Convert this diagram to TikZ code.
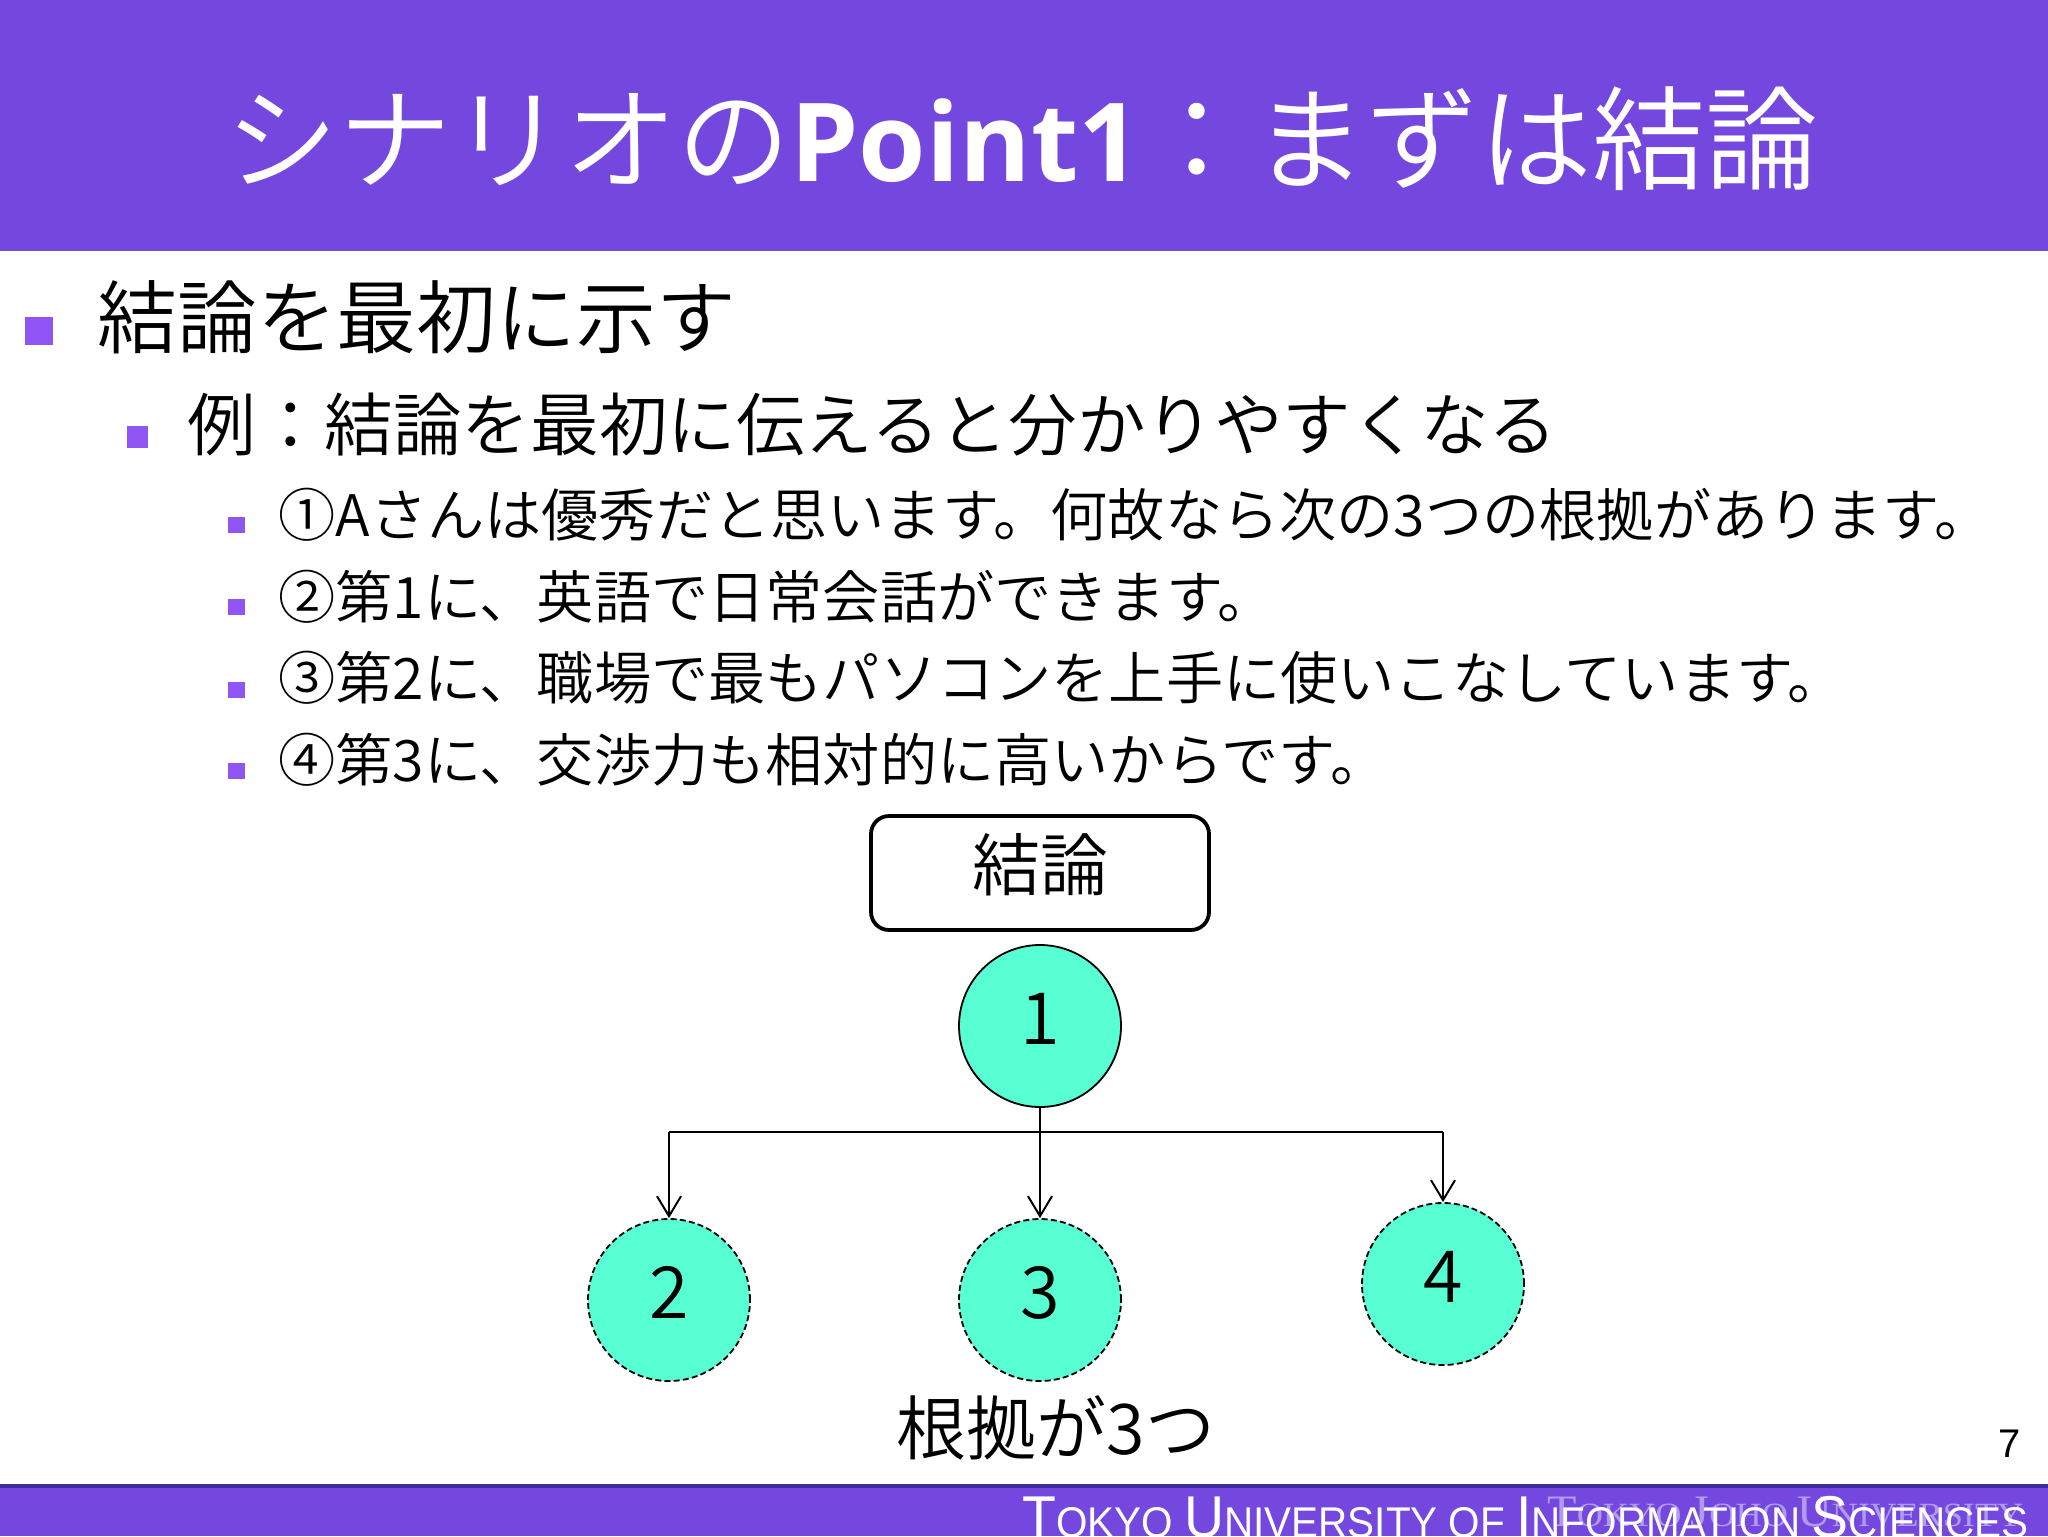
\documentclass[tikz,border=0pt]{standalone}
\usepackage{fontspec}
\usetikzlibrary{arrows.meta}
\setmainfont{Noto Sans CJK JP}[UprightFont=* DemiLight,BoldFont=* Bold]
\newfontfamily\latinbold{Open Sans}[BoldFont=* Bold]
\newfontfamily\footsans{Liberation Sans}
\newfontfamily\footserif{Liberation Serif}
\definecolor{band}{HTML}{7448DF}
\definecolor{bandline}{HTML}{3F2C9C}
\definecolor{bullet}{HTML}{8F55F5}
\definecolor{mint}{HTML}{57FFD3}
\definecolor{ghost}{HTML}{B29AF0}
\newcommand{\fs}[1]{\fontsize{#1pt}{#1pt}\selectfont}
\newcommand{\numtext}[1]{\raisebox{-9.2pt}[0pt][0pt]{#1}}
\tikzset{
  lineA/.style={anchor=base west,inner sep=0pt,font=\fs{39.9}},
  lineB/.style={anchor=base west,inner sep=0pt,font=\fs{34.3}},
  lineC/.style={anchor=base west,inner sep=0pt,font=\fs{28.6}},
  bulletmark/.style={fill=bullet,draw=none},
  mintdisc/.style={circle,minimum size=81pt,inner sep=0pt,fill=mint,draw=black,line width=.9pt,font=\fs{36}},
  dashdisc/.style={mintdisc,dash pattern=on 3pt off 1.6pt},
  wire/.style={line width=1pt,draw=black},
  tip/.style={-{Straight Barb[length=10pt,width=12pt,line width=1pt]}}
}
\begin{document}
\begin{tikzpicture}[x=.5pt,y=-.5pt]
\useasboundingbox (0,0) rectangle (2048,1536);
\fill[band] (0,0) rectangle (2048,251);
\fill[band] (0,1485) rectangle (2048,1536);
\fill[bandline] (0,1484) rectangle (2048,1488);
\node[anchor=base,inner sep=0pt,text=white,font=\fs{56.5}] (title) at (1022,181) {シナリオの{\latinbold\bfseries\fs{54.5}Point1}：まずは結論};
% bullets
\fill[bulletmark] (25,317) rectangle (53,345);
\fill[bulletmark] (127,426) rectangle (148,448);
\fill[bulletmark] (228,517) rectangle (245,533);
\fill[bulletmark] (228,599) rectangle (245,615);
\fill[bulletmark] (228,682) rectangle (245,698);
\fill[bulletmark] (228,763) rectangle (245,779);
% text
\node[lineA] (t1) at (97,347) {結論を最初に示す};
\node[lineB] (t2) at (187,450) {例：結論を最初に伝えると分かりやすくなる};
\node[lineC] (t3) at (278,536) {①Aさんは優秀だと思います。何故なら次の3つの根拠があります。};
\node[lineC] (t4) at (278,618) {②第1に、英語で日常会話ができます。};
\node[lineC] (t5) at (278,699) {③第2に、職場で最もパソコンを上手に使いこなしています。};
\node[lineC] (t6) at (278,781) {④第3に、交渉力も相対的に高いからです。};
% diagram
\node[draw=black,line width=1.9pt,rounded corners=9pt,minimum width=169pt,minimum height=57pt,inner sep=0pt,font=\fs{34}] (box) at (1040,873) {\raisebox{-8.7pt}[0pt][0pt]{結論}};
\node[mintdisc] (c1) at (1040,1026) {\numtext{1}};
\node[dashdisc] (c2) at (669,1300) {\numtext{2}};
\node[dashdisc] (c3) at (1040,1300) {\numtext{3}};
\node[dashdisc] (c4) at (1443,1284) {\numtext{4}};
\coordinate (bl) at (669,1132);
\coordinate (bc) at (1040,1132);
\coordinate (br) at (1443,1132);
\draw[wire] (bl) -- (br);
\draw[wire,tip] (c1) -- (c3);
\draw[wire,tip] (bl) -- (c2);
\draw[wire,tip] (br) -- (c4);
\node[anchor=base,inner sep=0pt,font=\fs{35}] (cap) at (1056,1454) {根拠が3つ};
\node[anchor=base,inner sep=0pt,font=\footsans\fs{20}] (page) at (2010,1457) {7};
% footer
\begin{scope}
\clip (0,1488) rectangle (2048,1536);
\node[anchor=base west,inner sep=0pt,text=ghost,font=\footserif] (gh) at (1547,1526) {\resizebox{238pt}{\height}{\fs{22.5}T\fs{17}OKYO \fs{22.5}J\fs{17}OHO \fs{22.5}U\fs{17}NIVERSITY}};
\node[anchor=base west,inner sep=0pt,text=white,font=\footsans] (ft) at (1022,1537) {\resizebox{503pt}{\height}{\fs{29.5}T\fs{21.5}OKYO \fs{29.5}U\fs{21.5}NIVERSITY OF \fs{29.5}I\fs{21.5}NFORMATION \fs{29.5}S\fs{21.5}CIENCES}};
\end{scope}
\end{tikzpicture}
\end{document}
